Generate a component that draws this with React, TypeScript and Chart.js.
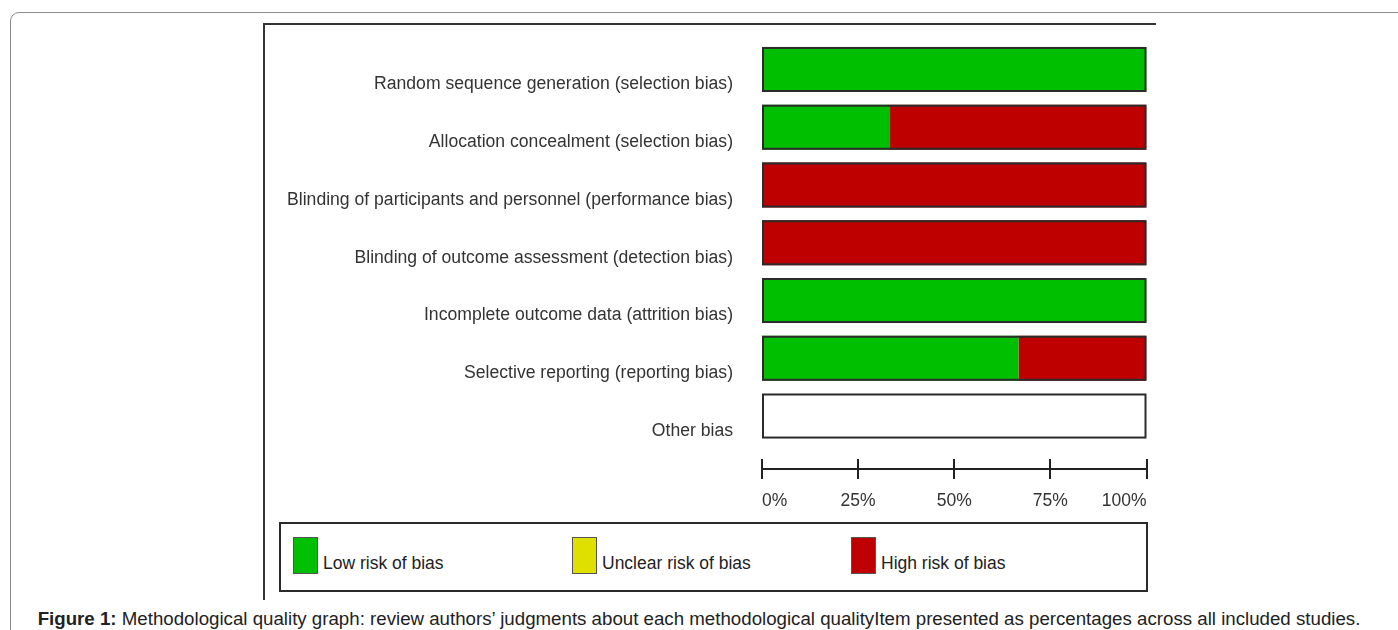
import React, { useEffect, useRef } from 'react';
import { Chart, registerables } from 'chart.js';

Chart.register(...registerables);

const domains = [
  'Random sequence generation (selection bias)',
  'Allocation concealment (selection bias)',
  'Blinding of participants and personnel (performance bias)',
  'Blinding of outcome assessment (detection bias)',
  'Incomplete outcome data (attrition bias)',
  'Selective reporting (reporting bias)',
  'Other bias',
];
const lowRisk = [100, 33.3, 0, 0, 100, 66.7, 0];
const unclearRisk = [0, 0, 0, 0, 0, 0, 0];
const highRisk = [0, 66.7, 100, 100, 0, 33.3, 0];
const xTickValues = [0, 25, 50, 75, 100];
const seriesNames = ['Low risk of bias', 'Unclear risk of bias', 'High risk of bias'];
const seriesColors = ['#00BF00', '#DFDF00', '#BF0000'];
const captionLead = 'Figure 1:';
const captionText =
  ' Methodological quality graph: review authors’ judgments about each methodological qualityItem presented as percentages across all included studies.';

const FONT = '"Liberation Sans", Arial, sans-serif';

const framePlugin = {
  id: 'rowFrames',
  afterDatasetsDraw(chart: any) {
    const { ctx, scales } = chart;
    const x = scales.x;
    const meta = chart.getDatasetMeta(0);
    const x0 = x.getPixelForValue(0);
    const x1 = x.getPixelForValue(100);
    ctx.save();
    ctx.strokeStyle = '#2b2b2b';
    ctx.lineWidth = 2;
    meta.data.forEach((bar: any) => {
      const h = bar.height;
      const top = bar.y - h / 2;
      ctx.strokeRect(x0 + 1, top + 1, x1 - x0 - 2, h - 2);
    });
    // axis line with ticks
    const ay = chart.chartArea.bottom + 24;
    ctx.strokeStyle = '#222';
    ctx.lineWidth = 2;
    ctx.beginPath();
    ctx.moveTo(x0, ay);
    ctx.lineTo(x1, ay);
    xTickValues.forEach((v) => {
      const px = Math.round(x.getPixelForValue(v));
      ctx.moveTo(px, ay - 10);
      ctx.lineTo(px, ay + 10);
    });
    ctx.stroke();
    ctx.restore();
  },
};

function RiskChart() {
  const ref = useRef<HTMLCanvasElement | null>(null);
  useEffect(() => {
    if (!ref.current) return;
    const datasets = [lowRisk, unclearRisk, highRisk].map((d, i) => ({
      label: seriesNames[i],
      data: d,
      backgroundColor: seriesColors[i],
      borderWidth: 0,
      barPercentage: 0.78,
      categoryPercentage: 1,
    }));
    const chart = new Chart(ref.current, {
      type: 'bar',
      data: { labels: domains, datasets },
      options: {
        indexAxis: 'y',
        animation: false,
        responsive: false,
        layout: { padding: { top: 20.6, right: 53.5, left: 0, bottom: 0 } },
        plugins: { legend: { display: false }, tooltip: { enabled: false } },
        scales: {
          x: {
            stacked: true,
            min: 0,
            max: 100,
            afterFit: (s: any) => {
              s.height = 75.1;
              s.paddingLeft = 0;
              s.paddingRight = 0;
            },
            afterBuildTicks: (s: any) => {
              s.ticks = xTickValues.map((v) => ({ value: v }));
            },
            grid: { display: false, drawTicks: false },
            border: { display: false },
            ticks: {
              align: 'inner',
              padding: 46,
              color: '#333',
              font: { family: FONT, size: 17.5 },
              callback: (v: any) => `${v}%`,
            },
          },
          y: {
            stacked: true,
            afterFit: (s: any) => {
              s.width = 492;
              s.paddingTop = 0;
              s.paddingBottom = 0;
            },
            grid: { display: false, drawTicks: false },
            border: { display: false },
            ticks: {
              padding: 29,
              labelOffset: 15,
              color: '#333',
              font: { family: FONT, size: 17.6 },
            },
          },
        },
      },
      plugins: [framePlugin],
    } as any);
    return () => chart.destroy();
  }, []);
  return (
    <canvas
      ref={ref}
      width={930}
      height={500}
      style={{ position: 'absolute', left: 270, top: 20, width: 930, height: 500 }}
    />
  );
}

export default function App() {
  const legendLefts = [293, 572, 851];
  return (
    <div
      style={{
        position: 'fixed',
        left: 0,
        top: 0,
        width: 1398,
        height: 630,
        overflow: 'hidden',
        background: '#fff',
        fontFamily: FONT,
      }}
    >
      <div
        style={{
          position: 'absolute',
          left: 10,
          top: 12,
          width: 1420,
          height: 660,
          border: '1.5px solid #8c8c8c',
          borderRadius: 9,
          boxSizing: 'border-box',
        }}
      />
      <div style={{ position: 'absolute', left: 263, top: 23, width: 893, height: 2, background: '#333' }} />
      <div style={{ position: 'absolute', left: 263, top: 23, width: 2, height: 577, background: '#333' }} />
      <RiskChart />
      <div
        style={{
          position: 'absolute',
          left: 279,
          top: 522,
          width: 869,
          height: 70,
          border: '2px solid #2b2b2b',
          boxSizing: 'border-box',
        }}
      />
      {seriesNames.map((name, i) => (
        <div
          key={name}
          style={{
            position: 'absolute',
            left: legendLefts[i],
            top: 537,
            height: 37,
            display: 'flex',
            alignItems: 'center',
          }}
        >
          <div
            style={{
              width: 25,
              height: 37,
              background: seriesColors[i],
              border: '1px solid #555',
              boxSizing: 'border-box',
            }}
          />
          <span style={{ marginLeft: 5, fontSize: 17.5, color: '#222', marginTop: 15 }}>{name}</span>
        </div>
      ))}
      <div
        style={{
          position: 'absolute',
          left: 0,
          width: 1398,
          top: 608,
          textAlign: 'center',
          fontSize: 18.7,
          color: '#222',
          whiteSpace: 'nowrap',
        }}
      >
        <b>{captionLead}</b>
        {captionText}
      </div>
    </div>
  );
}
